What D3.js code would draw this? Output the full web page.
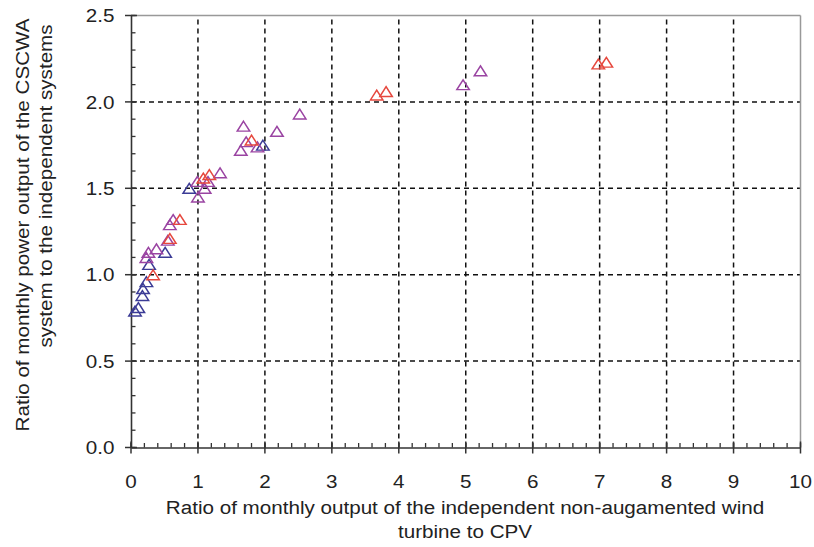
<!DOCTYPE html>
<html><head><meta charset="utf-8">
<script src="https://cdn.jsdelivr.net/npm/d3@7"></script>
<style>body{margin:0;background:#fff}svg{display:block;font-family:"Liberation Sans",Arial,sans-serif}</style>
</head><body>
<svg id="c" width="814" height="547"></svg>
<script>
const xTicks = [0,1,2,3,4,5,6,7,8,9,10];
const yTicks = [0.0,0.5,1.0,1.5,2.0,2.5];
const xTitle = ["Ratio of monthly output of the independent non-augamented wind","turbine to CPV"];
const yTitle = ["Ratio of monthly power output of the CSCWA","system to the independent systems"];
const blueX = [0.06,0.11,0.17,0.18,0.23,0.27,0.51,0.87,1.97];
const blueY = [0.78,0.80,0.87,0.91,0.95,1.05,1.12,1.49,1.74];
const purpleX = [0.23,0.26,0.38,0.55,0.58,0.63,1.00,0.99,1.10,1.15,1.33,1.64,1.68,1.72,1.89,2.18,2.52,4.96,5.22];
const purpleY = [1.09,1.12,1.14,1.19,1.28,1.31,1.44,1.53,1.49,1.53,1.58,1.71,1.85,1.76,1.73,1.82,1.92,2.09,2.17];
const redX = [0.33,0.58,0.73,1.08,1.17,1.80,3.67,3.81,6.98,7.10];
const redY = [0.99,1.20,1.31,1.55,1.57,1.77,2.03,2.05,2.21,2.22];

const SX = 1.11; // wider letterforms than Arial, along the text direction
const svg = d3.select("#c");
const x = d3.scaleLinear().domain([0,10]).range([131,800.5]);
const y = d3.scaleLinear().domain([0,2.5]).range([447.5,15.5]);

function txt(parent, px, py, s, size, anchor, rot){
  return parent.append("text")
    .attr("transform",`translate(${px},${py})` + (rot?` rotate(${rot})`:"") + ` scale(${SX},1)`)
    .attr("text-anchor",anchor).attr("font-size",size).attr("fill","#222").text(s);
}

// grid
const g = svg.append("g");
g.selectAll("line.vg").data(xTicks.filter(d=>d>0&&d<10)).enter().append("line")
  .attr("x1",d=>x(d)).attr("x2",d=>x(d)).attr("y1",y(0)).attr("y2",y(2.5))
  .attr("stroke","#111").attr("stroke-width",1.5).attr("stroke-dasharray","5,4");
g.selectAll("line.hg").data(yTicks.filter(d=>d>0&&d<2.5)).enter().append("line")
  .attr("x1",x(0)).attr("x2",x(10)).attr("y1",d=>y(d)).attr("y2",d=>y(d))
  .attr("stroke","#111").attr("stroke-width",1.5).attr("stroke-dasharray","5,4");
// frame top/right
svg.append("line").attr("x1",x(0)).attr("x2",x(10)).attr("y1",y(2.5)).attr("y2",y(2.5)).attr("stroke","#999").attr("stroke-width",1.5);
svg.append("line").attr("x1",x(10)).attr("x2",x(10)).attr("y1",y(0)).attr("y2",y(2.5)).attr("stroke","#999").attr("stroke-width",1.5);

// x axis
const xa = svg.append("g").attr("transform",`translate(0,${y(0)})`);
xa.call(d3.axisBottom(x).tickValues(d3.range(0,10.01,0.2)).tickSize(0).tickFormat(""));
xa.select(".domain").attr("stroke","#333").attr("stroke-width",1.6);
xa.selectAll(".tick line").remove();
xa.selectAll("line.minor").data(d3.range(0,10.01,0.2)).enter().append("line")
  .attr("x1",d=>x(d)).attr("x2",d=>x(d)).attr("y1",0).attr("y2",-4.5).attr("stroke","#333").attr("stroke-width",1.3);
xa.selectAll("line.major").data(xTicks).enter().append("line")
  .attr("x1",d=>x(d)).attr("x2",d=>x(d)).attr("y1",-6).attr("y2",6).attr("stroke","#333").attr("stroke-width",1.5);
xTicks.forEach(d=>txt(xa, x(d), 40, d, 18.6, "middle"));

// y axis
const ya = svg.append("g").attr("transform",`translate(${x(0)},0)`);
ya.call(d3.axisLeft(y).tickValues(yTicks).tickSize(0).tickFormat(""));
ya.select(".domain").attr("stroke","#333").attr("stroke-width",1.6);
ya.selectAll(".tick line").remove();
ya.selectAll("line.minor").data(d3.range(0,2.501,0.1)).enter().append("line")
  .attr("y1",d=>y(d)).attr("y2",d=>y(d)).attr("x1",0).attr("x2",4.5).attr("stroke","#333").attr("stroke-width",1.3);
ya.selectAll("line.major").data(yTicks).enter().append("line")
  .attr("y1",d=>y(d)).attr("y2",d=>y(d)).attr("x1",-6).attr("x2",6).attr("stroke","#333").attr("stroke-width",1.5);
yTicks.forEach(d=>txt(ya, -16.5, y(d)+6.7, d.toFixed(1), 18.6, "end"));

// titles
txt(svg, 465, 513.5, xTitle[0], 18.6, "middle");
txt(svg, 465, 537.5, xTitle[1], 18.6, "middle");
txt(svg, 28.5, 225, yTitle[0], 18.6, "middle", -90);
txt(svg, 52, 186, yTitle[1], 18.6, "middle", -90);

// points
const tri = d3.symbol().type(d3.symbolTriangle).size(56);
function plot(xs, ys, color){
  svg.append("g").selectAll("path").data(xs.map((v,i)=>[v,ys[i]])).enter().append("path")
    .attr("d",tri).attr("transform",d=>`translate(${x(d[0])},${y(d[1])}) scale(1.1,1)`)
    .attr("fill","none").attr("stroke",color).attr("stroke-width",1.4);
}
plot(blueX, blueY, "#3c3c96");
plot(purpleX, purpleY, "#9a44a2");
plot(redX, redY, "#e6483e");
</script>
</body></html>
